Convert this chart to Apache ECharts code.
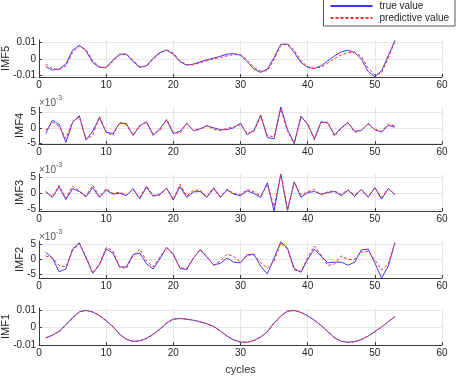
<!DOCTYPE html>
<html>
<head>
<meta charset="utf-8">
<script src="https://cdn.jsdelivr.net/npm/echarts@6/dist/echarts.min.js"></script>
<style>
  html, body { margin: 0; padding: 0; background: #fff; }
  #chart { width: 457px; height: 377px; }
</style>
</head>
<body>
<div id="chart"></div>
<script>
(function () {
  "use strict";

  // ── Data ──
  var cycles = [1, 2, 3, 4, 5, 6, 7, 8, 9, 10, 11, 12, 13, 14, 15, 16, 17, 18, 19, 20,
    21, 22, 23, 24, 25, 26, 27, 28, 29, 30, 31, 32, 33, 34, 35, 36, 37, 38, 39, 40,
    41, 42, 43, 44, 45, 46, 47, 48, 49, 50, 51, 52, 53];

  var imf5True = [-0.0046, -0.0066, -0.0060, -0.0030, 0.0054, 0.0084, 0.0050, -0.0020, -0.0050, -0.0050,
    -0.0006, 0.0030, 0.0030, -0.0014, -0.0050, -0.0040, 0.0006, 0.0040, 0.0054, 0.0030,
    -0.0016, -0.0036, -0.0030, -0.0016, -0.0004, 0.0006, 0.0018, 0.0030, 0.0034, 0.0024,
    -0.0016, -0.0060, -0.0080, -0.0060, 0.0010, 0.0090, 0.0090, 0.0040, -0.0020, -0.0050,
    -0.0056, -0.0040, -0.0010, 0.0020, 0.0044, 0.0054, 0.0040, 0.0000, -0.0074, -0.0106,
    -0.0070, 0.0020, 0.0114];
  var imf5Pred = [-0.0030, -0.0058, -0.0062, -0.0040, 0.0040, 0.0080, 0.0058, -0.0010, -0.0046, -0.0052,
    -0.0014, 0.0026, 0.0032, -0.0006, -0.0046, -0.0044, 0.0000, 0.0036, 0.0056, 0.0036,
    -0.0010, -0.0034, -0.0034, -0.0022, -0.0010, 0.0002, 0.0010, 0.0020, 0.0028, 0.0026,
    -0.0004, -0.0050, -0.0072, -0.0070, -0.0004, 0.0084, 0.0094, 0.0052, -0.0010, -0.0046,
    -0.0056, -0.0048, -0.0024, 0.0004, 0.0026, 0.0040, 0.0042, 0.0016, -0.0054, -0.0096,
    -0.0082, 0.0006, 0.0110];

  // IMF4..IMF2 in units of 1e-3
  var imf4True = [-1.9, 2.5, 1.1, -4.8, 1.7, 4.0, -4.0, -1.1, 3.2, -1.4,
    -1.9, 1.5, 1.4, -2.5, 0.6, 2.0, -2.5, -0.3, 2.5, -1.9,
    -1.1, 1.4, -0.9, -0.3, 0.6, 0.0, -0.6, -0.6, 0.0, 1.5,
    -2.3, -0.9, 4.2, -3.2, -3.6, 6.8, -0.6, -5.0, 3.8, 1.1,
    -3.6, 2.0, 1.5, -2.3, 0.0, 1.7, -1.1, -0.9, 1.4, -0.6,
    -1.4, 0.8, 0.2];
  var imf4Pred = [-0.8, 1.8, 0.5, -3.5, 2.0, 3.5, -3.8, -2.5, 3.8, -1.5,
    -2.5, 1.8, 1.0, -2.5, 0.8, 1.8, -2.0, -0.8, 2.8, -1.5,
    -1.8, 1.6, -1.0, -0.5, 0.8, -0.5, -0.9, -0.2, 0.3, 1.0,
    -1.8, -1.2, 3.8, -2.5, -3.0, 6.2, -1.0, -5.5, 3.5, 1.5,
    -4.0, 1.8, 1.8, -2.8, -0.2, 1.8, -1.5, -0.8, 1.2, -0.5,
    -1.2, 1.2, 0.6];

  var imf3True = [0.5, -1.2, 2.1, -1.9, 1.5, 0.6, -1.0, 1.8, -1.2, 1.0,
    -0.2, 0.1, -0.7, 1.5, -1.7, 2.0, -0.9, -0.2, 1.6, -2.0,
    2.1, -1.2, 0.5, 0.6, -1.2, 1.5, -1.2, 1.1, -0.2, -0.7,
    0.8, 0.0, -1.2, 3.3, -5.4, 6.0, -5.2, 3.6, -1.2, 0.3,
    0.6, -0.2, 0.3, 0.6, -0.7, 1.0, -0.9, 1.3, -1.2, 1.8,
    -1.7, 1.5, -0.4];
  var imf3Pred = [0.6, -1.0, 2.5, -1.5, 2.3, 0.8, -0.8, 2.5, -1.0, 1.5,
    0.0, 0.4, -0.5, 1.2, -1.3, 2.3, -0.6, -0.5, 1.6, -1.8,
    2.8, -0.8, 1.0, 1.0, -1.0, 1.8, -1.0, 1.3, 0.0, -0.3,
    1.2, 0.5, -0.8, 2.5, -4.0, 6.0, -5.0, 3.5, -0.5, 0.5,
    1.2, -0.5, 0.5, 0.8, -0.3, 1.2, -0.5, 1.2, -1.0, 1.8,
    -1.2, 1.5, -0.2];

  var imf2True = [2.4, 0.5, -4.1, -3.2, 3.5, 5.6, 0.5, -4.6, -1.8, 3.5,
    2.2, -2.5, -2.5, 1.6, 2.2, -1.4, -3.2, 0.2, 4.1, 1.8,
    -3.0, -3.4, 0.5, 3.2, 0.8, -1.8, -1.3, 0.5, -0.9, -1.1,
    1.6, 1.8, -2.2, -4.8, 0.5, 5.9, 3.8, -3.0, -4.3, 0.0,
    3.5, 1.1, -1.1, -0.9, -0.9, -1.9, -0.9, 3.2, 3.5, -1.1,
    -6.2, -2.2, 5.7];
  var imf2Pred = [1.2, 0.5, -2.0, -2.5, 3.0, 5.3, 1.0, -4.5, -1.5, 4.0,
    3.0, -2.5, -3.0, 1.2, 3.5, -0.5, -2.5, 0.8, 4.0, 1.5,
    -2.8, -3.0, 0.5, 3.5, 1.0, -2.0, -0.5, 1.8, 1.0, -1.0,
    1.5, 1.5, -1.0, -3.0, -0.5, 5.5, 3.5, -3.5, -4.0, 0.5,
    4.5, 1.5, -2.0, -1.5, 1.2, 0.0, 0.0, 2.5, 2.8, 0.0,
    -3.5, -1.5, 5.5];

  var imf1True = [-0.0060, -0.0045, -0.0022, 0.0015, 0.0055, 0.0088, 0.0097, 0.0087, 0.0066, 0.0037,
    0.0004, -0.0040, -0.0068, -0.0080, -0.0077, -0.0063, -0.0040, -0.0010, 0.0025, 0.0047,
    0.0050, 0.0046, 0.0040, 0.0032, 0.0020, 0.0005, -0.0020, -0.0050, -0.0072, -0.0084,
    -0.0085, -0.0075, -0.0055, -0.0025, 0.0025, 0.0065, 0.0092, 0.0096, 0.0085, 0.0065,
    0.0040, 0.0010, -0.0025, -0.0060, -0.0080, -0.0085, -0.0082, -0.0070, -0.0050, -0.0025,
    0.0002, 0.0032, 0.0060];
  var imf1Pred = [-0.0062, -0.0046, -0.0024, 0.0012, 0.0052, 0.0086, 0.0096, 0.0088, 0.0068, 0.0039,
    0.0006, -0.0038, -0.0068, -0.0081, -0.0078, -0.0064, -0.0042, -0.0012, 0.0022, 0.0045,
    0.0050, 0.0047, 0.0041, 0.0031, 0.0019, 0.0004, -0.0022, -0.0051, -0.0073, -0.0085,
    -0.0086, -0.0076, -0.0056, -0.0027, 0.0022, 0.0063, 0.0091, 0.0096, 0.0086, 0.0066,
    0.0041, 0.0011, -0.0024, -0.0059, -0.0080, -0.0086, -0.0083, -0.0071, -0.0051, -0.0026,
    0.0001, 0.0031, 0.0059];

  var panelNames = ["IMF5", "IMF4", "IMF3", "IMF2", "IMF1"];
  var trueSets = [imf5True, imf4True, imf3True, imf2True, imf1True];
  var predSets = [imf5Pred, imf4Pred, imf3Pred, imf2Pred, imf1Pred];
  var yMins = [-0.0108, -5.3, -5.4, -6.2, -0.0101];
  var yMaxs = [0.0116, 6.8, 6.0, 6.2, 0.0110];
  var yTicks = [[-0.01, 0, 0.01], [-5, 0, 5], [-5, 0, 5], [-5, 0, 5], [-0.01, 0, 0.01]];
  var xTicks = [0, 10, 20, 30, 40, 50, 60];
  var scaleNote = [false, true, true, true, false];

  var FONT = "'Liberation Sans', Arial, sans-serif";
  var AXIS_COLOR = "#3a3a3a";
  var GRID_COLOR = "#e6e6e6";
  var BLUE = "#3b3bff";
  var RED = "#ff2a2a";

  var TOPS = [40, 107, 174, 241, 308];
  var PANEL_H = 37;

  function pairs(values) {
    var out = [];
    for (var i = 0; i < values.length; i++) out.push([cycles[i], values[i]]);
    return out;
  }

  var grids = [], xAxes = [], yAxes = [], series = [], graphics = [];

  for (var p = 0; p < panelNames.length; p++) {
    grids.push({
      left: 39, right: 15, top: TOPS[p], height: PANEL_H,
      containLabel: false, outerBoundsMode: "none"
    });

    xAxes.push({
      type: "value",
      gridIndex: p,
      min: xTicks[0],
      max: xTicks[xTicks.length - 1],
      interval: 10,
      name: p === panelNames.length - 1 ? "cycles" : "",
      nameLocation: "middle",
      nameGap: 19,
      nameMoveOverlap: false,
      nameTextStyle: { color: "#333", fontSize: 11, fontFamily: FONT },
      axisLine: { onZero: false, lineStyle: { color: AXIS_COLOR, width: 1 } },
      axisTick: { inside: true, length: 3, lineStyle: { color: AXIS_COLOR } },
      axisLabel: { color: "#262626", fontSize: 10, fontFamily: FONT, margin: 3 },
      splitLine: { show: true, lineStyle: { color: GRID_COLOR, width: 1 } }
    });

    yAxes.push({
      type: "value",
      gridIndex: p,
      min: yMins[p],
      max: yMaxs[p],
      name: panelNames[p],
      nameLocation: "middle",
      nameGap: scaleNote[p] ? 14 : 28,
      nameRotate: 90,
      nameMoveOverlap: false,
      nameTextStyle: { color: "#262626", fontSize: 11, fontFamily: FONT },
      axisLine: { show: true, onZero: false, lineStyle: { color: AXIS_COLOR, width: 1 } },
      axisTick: { show: true, inside: true, length: 3, customValues: yTicks[p], lineStyle: { color: AXIS_COLOR } },
      axisLabel: { color: "#262626", fontSize: 10, fontFamily: FONT, margin: 3, customValues: yTicks[p] },
      splitLine: { show: true, lineStyle: { color: GRID_COLOR, width: 1 } }
    });

    series.push({
      name: "true value",
      type: "line",
      xAxisIndex: p,
      yAxisIndex: p,
      symbol: "none",
      smooth: false,
      clip: true,
      lineStyle: { color: BLUE, width: 1 },
      itemStyle: { color: BLUE },
      data: pairs(trueSets[p]),
      z: 3
    });
    series.push({
      name: "predictive value",
      type: "line",
      xAxisIndex: p,
      yAxisIndex: p,
      symbol: "none",
      smooth: false,
      clip: true,
      lineStyle: { color: RED, width: 1, type: [3, 2] },
      itemStyle: { color: RED },
      data: pairs(predSets[p]),
      z: 4
    });

    if (scaleNote[p]) {
      graphics.push({
        type: "text",
        left: 39,
        top: TOPS[p] - 12,
        style: {
          text: "{a|\u00d710}{b|-3}",
          rich: {
            a: { fontSize: 10, fontFamily: FONT, fill: "#555", verticalAlign: "bottom" },
            b: { fontSize: 7, fontFamily: FONT, fill: "#555", verticalAlign: "top", padding: [0, 0, 6, 0] }
          }
        }
      });
    }
  }

  var chart = echarts.init(document.getElementById("chart"), null, { renderer: "canvas" });

  chart.setOption({
    backgroundColor: "#fff",
    animation: false,
    grid: grids,
    xAxis: xAxes,
    yAxis: yAxes,
    legend: {
      data: ["true value", "predictive value"],
      orient: "vertical",
      right: 2,
      top: -2,
      padding: [3, 6, 3, 6],
      itemGap: 2,
      itemWidth: 42,
      itemHeight: 10,
      align: "left",
      borderColor: "#555",
      borderWidth: 1,
      borderRadius: 0,
      backgroundColor: "#fff",
      itemStyle: { opacity: 0 },
      textStyle: { color: "#262626", fontSize: 10, fontFamily: FONT, padding: [0, 0, 0, 2] }
    },
    graphic: graphics,
    series: series
  });
})();
</script>
</body>
</html>
